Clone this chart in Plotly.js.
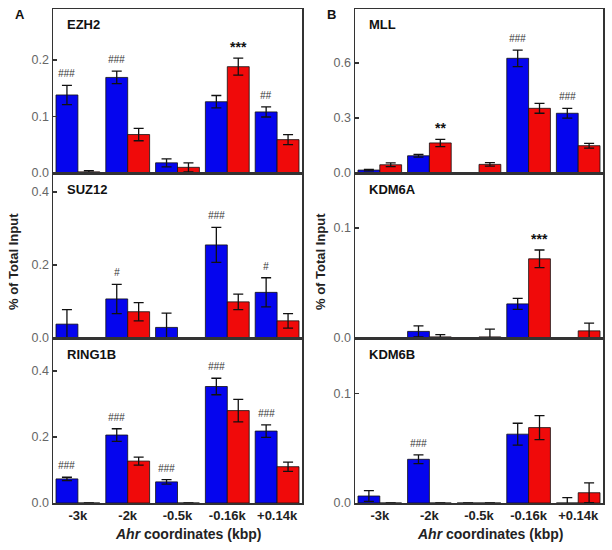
<!DOCTYPE html>
<html>
<head>
<meta charset="utf-8">
<script src="https://cdn.plot.ly/plotly-3.0.1.min.js"></script>
<style>html,body{margin:0;padding:0;background:#fff;}#chart{width:612px;height:550px;}</style>
</head>
<body>
<div id="chart"></div>
<script>
// ---- data ----
var categories = ['-3k', '-2k', '-0.5k', '-0.16k', '+0.14k'];
var panelNames = ['EZH2', 'SUZ12', 'RING1B', 'MLL', 'KDM6A', 'KDM6B'];

var ezh2Blue = [0.138, 0.169, 0.018, 0.126, 0.108];
var ezh2BlueErr = [0.017, 0.011, 0.007, 0.011, 0.009];
var ezh2Red = [0.002, 0.068, 0.010, 0.188, 0.059];
var ezh2RedErr = [0.002, 0.011, 0.008, 0.015, 0.009];

var suz12Blue = [0.038, 0.107, 0.029, 0.255, 0.125];
var suz12BlueErr = [0.040, 0.040, 0.039, 0.048, 0.040];
var suz12Red = [0, 0.072, 0, 0.099, 0.047];
var suz12RedErr = [0, 0.025, 0, 0.021, 0.020];

var ring1bBlue = [0.073, 0.206, 0.064, 0.353, 0.218];
var ring1bBlueErr = [0.005, 0.019, 0.007, 0.025, 0.019];
var ring1bRed = [0, 0.127, 0, 0.280, 0.110];
var ring1bRedErr = [0, 0.012, 0, 0.034, 0.014];

var mllBlue = [0.016, 0.094, 0, 0.626, 0.326];
var mllBlueErr = [0.004, 0.007, 0, 0.045, 0.027];
var mllRed = [0.045, 0.164, 0.047, 0.353, 0.149];
var mllRedErr = [0.010, 0.020, 0.010, 0.027, 0.013];

var kdm6aBlue = [0, 0.006, 0, 0.031, 0];
var kdm6aBlueErr = [0, 0.005, 0, 0.005, 0];
var kdm6aRed = [0, 0.001, 0.001, 0.072, 0.0065];
var kdm6aRedErr = [0, 0.002, 0.007, 0.008, 0.007];

var kdm6bBlue = [0.0064, 0.040, 0, 0.063, 0];
var kdm6bBlueErr = [0.005, 0.004, 0, 0.010, 0.005];
var kdm6bRed = [0, 0, 0, 0.069, 0.0094];
var kdm6bRedErr = [0, 0, 0, 0.011, 0.009];

// significance marks: [category, series, text]
var ezh2Marks = [['-3k', 'blue', '###'], ['-2k', 'blue', '###'], ['-0.16k', 'red', '***'], ['+0.14k', 'blue', '##']];
var suz12Marks = [['-2k', 'blue', '#'], ['-0.16k', 'blue', '###'], ['+0.14k', 'blue', '#']];
var ring1bMarks = [['-3k', 'blue', '###'], ['-2k', 'blue', '###'], ['-0.5k', 'blue', '###'], ['-0.16k', 'blue', '###'], ['+0.14k', 'blue', '###']];
var mllMarks = [['-2k', 'red', '**'], ['-0.16k', 'blue', '###'], ['+0.14k', 'blue', '###']];
var kdm6aMarks = [['-0.16k', 'red', '***']];
var kdm6bMarks = [['-2k', 'blue', '###']];

// y-axis ranges and tick steps
var yMax = [0.29, 0.452, 0.5, 0.895, 0.150, 0.151];
var yStep = [0.1, 0.2, 0.2, 0.3, 0.1, 0.1];

var panels = [
  {b: ezh2Blue, be: ezh2BlueErr, r: ezh2Red, re: ezh2RedErr, m: ezh2Marks},
  {b: suz12Blue, be: suz12BlueErr, r: suz12Red, re: suz12RedErr, m: suz12Marks},
  {b: ring1bBlue, be: ring1bBlueErr, r: ring1bRed, re: ring1bRedErr, m: ring1bMarks},
  {b: mllBlue, be: mllBlueErr, r: mllRed, re: mllRedErr, m: mllMarks},
  {b: kdm6aBlue, be: kdm6aBlueErr, r: kdm6aRed, re: kdm6aRedErr, m: kdm6aMarks},
  {b: kdm6bBlue, be: kdm6bBlueErr, r: kdm6bRed, re: kdm6bRedErr, m: kdm6bMarks}
];

// ---- layout helpers ----
var W = 612, H = 550;
function px(x) { return x / W; }
function py(y) { return 1 - y / H; }
var colX = [[53, 302], [355, 603]];
var rowY = [[9, 173], [173, 338], [338, 503]];

var BLUE = '#0505ee', RED = '#f00a0a';
var FONT = 'Liberation Sans, Arial, sans-serif';

var data = [];
var layout = {
  width: W, height: H,
  margin: {l: 0, r: 0, t: 0, b: 0},
  paper_bgcolor: '#fff', plot_bgcolor: '#fff',
  showlegend: false,
  barmode: 'group', bargap: 0.12, bargroupgap: 0,
  font: {family: FONT},
  annotations: []
};

function paperText(x, y, text, size, color, angle) {
  return {xref: 'paper', yref: 'paper', x: px(x), y: py(y), xanchor: 'center', yanchor: 'middle',
    showarrow: false, textangle: angle || 0, text: text, font: {family: FONT, size: size, color: color}};
}

panels.forEach(function (p, i) {
  var col = i < 3 ? 0 : 1, row = i % 3;
  var n = i + 1;
  var xa = 'x' + (n === 1 ? '' : n), ya = 'y' + (n === 1 ? '' : n);
  var xk = 'xaxis' + (n === 1 ? '' : n), yk = 'yaxis' + (n === 1 ? '' : n);
  var err = function (arr) {
    return {type: 'data', array: arr, visible: true, color: '#111', thickness: 1.3, width: 5};
  };
  data.push({
    type: 'bar', x: categories, y: p.b, xaxis: xa, yaxis: ya, name: 'blue',
    marker: {color: BLUE, line: {color: '#111', width: 0.8}},
    error_y: err(p.be), hoverinfo: 'skip'
  });
  data.push({
    type: 'bar', x: categories, y: p.r, xaxis: xa, yaxis: ya, name: 'red',
    marker: {color: RED, line: {color: '#111', width: 0.8}},
    error_y: err(p.re), hoverinfo: 'skip'
  });
  layout[xk] = {
    type: 'category', domain: [px(colX[col][0]), px(colX[col][1])], anchor: ya,
    range: [-0.5, 4.5], showline: true, mirror: true, linecolor: '#333', linewidth: 1.5,
    showgrid: false, zeroline: false, ticks: '',
    tickmode: 'array', tickvals: categories,
    ticktext: categories.map(function (c) { return '<b>' + c + '</b>'; }),
    showticklabels: row === 2, ticklabelstandoff: 0,
    tickfont: {family: FONT, size: 13, color: '#222'},
    fixedrange: true
  };
  layout[yk] = {
    domain: [py(rowY[row][1]), py(rowY[row][0])], anchor: xa,
    range: [0, yMax[i]], dtick: yStep[i], tick0: 0, tickformat: '.1f',
    ticks: 'inside', ticklen: 4, tickcolor: '#333', tickwidth: 1.2,
    showline: true, mirror: true, linecolor: '#333', linewidth: 1.5,
    showgrid: false, zeroline: false,
    tickfont: {family: FONT, size: 12.5, color: '#666'},
    fixedrange: true
  };
  // gene label
  layout.annotations.push({
    xref: 'paper', yref: 'paper', x: px(colX[col][0] + 12), y: py(rowY[row][0] + 16),
    xanchor: 'left', yanchor: 'middle', showarrow: false,
    text: '<b>' + panelNames[i] + '</b>', font: {family: FONT, size: 13, color: '#111'}
  });
  // significance marks
  p.m.forEach(function (mk) {
    var k = categories.indexOf(mk[0]);
    var isBlue = mk[1] === 'blue';
    var top = isBlue ? p.b[k] + p.be[k] : p.r[k] + p.re[k];
    var star = mk[2].charAt(0) === '*';
    layout.annotations.push({
      xref: xa, yref: ya, x: mk[0], y: top,
      xshift: isBlue ? -11 : 11, yshift: star ? 1 : 4,
      xanchor: 'center', yanchor: 'bottom', showarrow: false,
      text: star ? '<b>' + mk[2] + '</b>' : '<i>' + mk[2] + '</i>',
      font: star ? {family: FONT, size: 14, color: '#111'} : {family: FONT, size: 10, color: '#333'}
    });
  });
});

// panel letters
layout.annotations.push(paperText(20, 15, '<b>A</b>', 13, '#111'));
layout.annotations.push(paperText(331, 14, '<b>B</b>', 13, '#111'));

// y titles
[13, 320].forEach(function (x) {
  layout.annotations.push(paperText(x, 262, '<b>% of Total Input</b>', 13, '#222', -90));
});
// x titles
[188, 490].forEach(function (x) {
  layout.annotations.push(paperText(x, 534, '<b><i>Ahr</i> coordinates (kbp)</b>', 14, '#222'));
});

Plotly.newPlot('chart', data, layout, {staticPlot: true, displayModeBar: false});
</script>
</body>
</html>
